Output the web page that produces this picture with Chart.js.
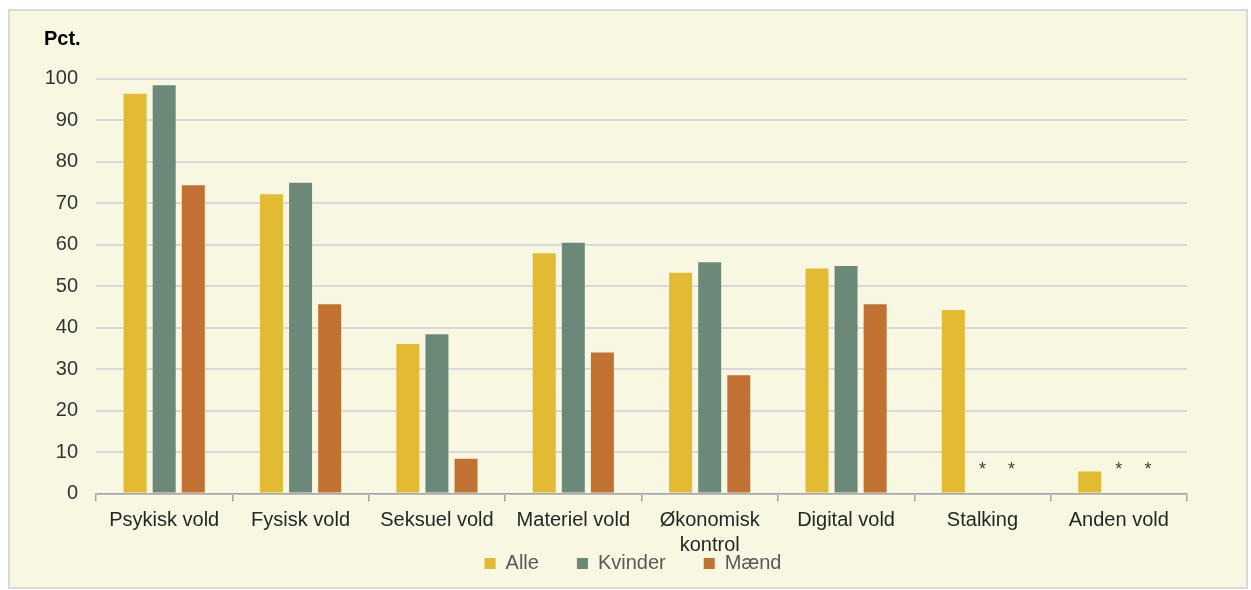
<!DOCTYPE html>
<html>
<head>
<meta charset="utf-8">
<script src="https://cdn.jsdelivr.net/npm/chart.js@4.4.1/dist/chart.umd.min.js"></script>
<style>
  html, body { margin: 0; padding: 0; background: #ffffff; }
  canvas { display: block; }
</style>
</head>
<body>
<canvas id="c" width="1251" height="590"></canvas>
<script>
// ---- Data ----
const categories = ['Psykisk vold', 'Fysisk vold', 'Seksuel vold', 'Materiel vold', ['Økonomisk', 'kontrol'], 'Digital vold', 'Stalking', 'Anden vold'];
const alle    = [96.3, 72.1, 36.0, 57.9, 53.2, 54.2, 44.2, 5.3];
const kvinder = [98.4, 74.9, 38.4, 60.4, 55.7, 54.8, null, null];
const maend   = [74.3, 45.6,  8.4, 34.0, 28.5, 45.6, null, null];
const seriesNames = ['Alle', 'Kvinder', 'Mænd'];
// categories where Kvinder / Mænd values are suppressed (shown as "*")
const suppressedSeries = [1, 2];
const suppressedCats = [6, 7];
const yTicks = [0, 10, 20, 30, 40, 50, 60, 70, 80, 90, 100];
const yUnit = 'Pct.';

Chart.defaults.font.family = '"Liberation Sans", Arial, sans-serif';

const framePlugin = {
  id: 'frame',
  beforeLayout(chart) {
    const lg = chart.legend;
    if (lg && !lg._hPatched) {
      const origFit = lg.fit.bind(lg);
      lg.fit = function () { origFit(); this.height = 33.5; };
      lg._hPatched = true;
    }
  },
  afterLayout(chart) {
    const lg = chart.legend;
    if (lg) {
      lg.left -= 17;
      lg.top = 515.5;
      lg.bottom = 590;
    }
  },
  beforeDraw(chart) {
    const ctx = chart.ctx;
    ctx.save();
    ctx.fillStyle = '#ffffff';
    ctx.fillRect(0, 0, chart.width, chart.height);
    ctx.fillStyle = '#F8F7E1';
    ctx.fillRect(9, 10, 1238, 578);
    ctx.strokeStyle = '#D9D9D9';
    ctx.lineWidth = 2;
    ctx.strokeRect(9, 10, 1238, 578);
    ctx.restore();
  }
};

const starPlugin = {
  id: 'stars',
  afterDatasetsDraw(chart) {
    const ctx = chart.ctx;
    const y = chart.scales.y;
    ctx.save();
    ctx.font = '18px "Liberation Sans", Arial, sans-serif';
    ctx.fillStyle = '#404040';
    ctx.textAlign = 'center';
    ctx.textBaseline = 'alphabetic';
    suppressedSeries.forEach(ds => {
      const meta = chart.getDatasetMeta(ds);
      suppressedCats.forEach(ci => {
        const el = meta.data[ci];
        if (!el) return;
        ctx.fillText('*', el.x, y.getPixelForValue(0) - 18.5);
      });
    });
    ctx.restore();
  }
};

new Chart(document.getElementById('c'), {
  type: 'bar',
  data: {
    labels: categories,
    datasets: [
      { label: seriesNames[0], data: alle,    backgroundColor: '#E3BB32', borderWidth: 0 },
      { label: seriesNames[1], data: kvinder, backgroundColor: '#6C8878', borderWidth: 0 },
      { label: seriesNames[2], data: maend,   backgroundColor: '#C17131', borderWidth: 0 }
    ]
  },
  options: {
    responsive: false,
    animation: false,
    devicePixelRatio: 1,
    categoryPercentage: 0.64,
    barPercentage: 0.79,
    layout: { padding: { left: 44, right: 64, top: 10, bottom: 0 } },
    plugins: {
      tooltip: { enabled: false },
      title: {
        display: true,
        text: yUnit,
        align: 'start',
        color: '#000000',
        font: { size: 20, weight: 'bold', lineHeight: 1.2 },
        padding: { top: 17, bottom: 27.5 }
      },
      legend: {
        position: 'bottom',
        fullSize: false,
        labels: {
          color: '#595959',
          font: { size: 20 },
          boxWidth: 11,
          boxHeight: 11,
          padding: 38
        }
      }
    },
    scales: {
      x: {
        grid: { drawOnChartArea: false, drawTicks: true, tickLength: 8, color: '#A6A6A6', lineWidth: 1.5 },
        border: { display: true, color: '#A6A6A6', width: 1.5 },
        ticks: { color: '#262626', font: { size: 20, lineHeight: 1.25 }, padding: 6, maxRotation: 0, autoSkip: false },
        afterFit(scale) { scale.height = 63; }
      },
      y: {
        min: 0,
        max: 100,
        afterBuildTicks(scale) { scale.ticks = yTicks.map(v => ({ value: v })); },
        grid: { color: '#D9D9D9', lineWidth: 2, drawTicks: false },
        border: { display: false },
        ticks: { color: '#333333', font: { size: 20 }, padding: 18 },
        afterFit(scale) { scale.width = 52; }
      }
    }
  },
  plugins: [framePlugin, starPlugin]
});
</script>
</body>
</html>
